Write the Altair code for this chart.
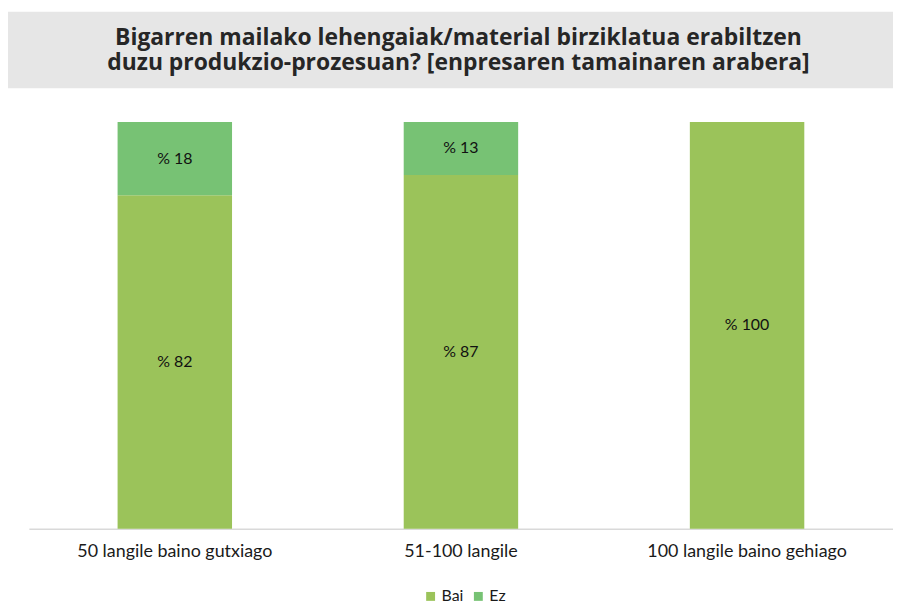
import altair as alt
import pandas as pd

categories = ["50 langile baino gutxiago", "51-100 langile", "100 langile baino gehiago"]
series = ["Bai", "Ez"]
bai = [82, 87, 100]
ez = [18, 13, 0]
title_lines = ["Bigarren mailako lehengaiak/material birziklatua erabiltzen",
               "duzu produkzio-prozesuan? [enpresaren tamainaren arabera]"]
colors = ["#9bc35a", "#77c274"]

rows = []
for c, b, e in zip(categories, bai, ez):
    rows.append({"cat": c, "serie": "Bai", "val": b, "order": 0})
    rows.append({"cat": c, "serie": "Ez", "val": e, "order": 1})
df = pd.DataFrame(rows)
df["label"] = "% " + df["val"].astype(str)

FONT = "Lato"

base = alt.Chart(df).encode(
    x=alt.X("cat:N", sort=categories,
            scale=alt.Scale(paddingInner=0.6, paddingOuter=0.31),
            axis=alt.Axis(title=None, labelAngle=0, ticks=False, domainColor="#d9d9d9",
                          domainWidth=1.5, labelFontSize=18, labelFont=FONT,
                          labelColor="#1a1a1a", labelPadding=14, labelLimit=400)),
)

bars = base.mark_bar().encode(
    y=alt.Y("val:Q", stack="zero", scale=alt.Scale(domain=[0, 100]), axis=None),
    color=alt.Color("serie:N", sort=series,
                    scale=alt.Scale(domain=series, range=colors),
                    legend=alt.Legend(title=None, orient="none", legendX=396, legendY=469,
                                      direction="horizontal", symbolType="square",
                                      symbolSize=80, symbolStrokeWidth=0,
                                      labelFontSize=16, labelFont=FONT, labelColor="#1a1a1a",
                                      columnPadding=6, labelOffset=3)),
    order=alt.Order("order:Q"),
)

labels = base.transform_filter("datum.val > 0").mark_text(
    fontSize=16, font=FONT, color="#111111"
).encode(
    y=alt.Y("val:Q", stack="zero", bandPosition=0.5),
    text="label:N",
    order=alt.Order("order:Q"),
)

band = alt.Chart(alt.Data(values=[{}])).mark_rect(color="#e6e6e6").encode(
    x=alt.value(-25), x2=alt.value(880), y=alt.value(-111), y2=alt.value(-34)
)

title = alt.Chart(alt.Data(values=[{}])).mark_text(
    text=title_lines, font="Open Sans", fontSize=23, fontWeight="bold", color="#262626",
    align="center", baseline="alphabetic", lineHeight=25.5
).encode(x=alt.value(432), y=alt.value(-78))

chart = alt.layer(band, title, bars, labels).properties(
    width=869, height=409,
    autosize=alt.AutoSizeParams(type="none"),
    padding={"left": 21, "top": 113, "right": 0, "bottom": 90},
).configure_view(stroke=None)

chart.save("out.html", embed_options={"renderer": "svg", "actions": False})
